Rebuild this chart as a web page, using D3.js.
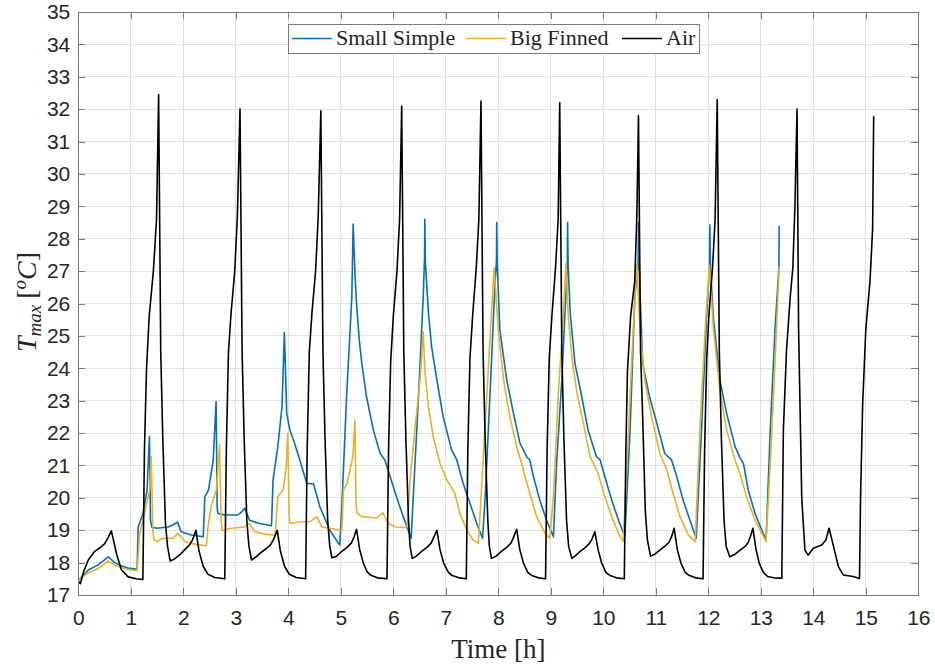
<!DOCTYPE html>
<html><head><meta charset="utf-8">
<script src="https://cdn.jsdelivr.net/npm/d3@7"></script>
<style>body{margin:0;background:#fff}</style>
</head><body><svg id="c" width="935" height="668"></svg>
<script>
// ---- data ----
const seriesNames = ["Small Simple", "Big Finned", "Air"];
const seriesColors = ["#0072BD", "#EDB120", "#000000"];
const xTicks = [0,1,2,3,4,5,6,7,8,9,10,11,12,13,14,15,16];
const yTicks = [17,18,19,20,21,22,23,24,25,26,27,28,29,30,31,32,33,34,35];

const smallSimpleData = [
[0,17.45],[0.19,17.77],[0.38,17.93],[0.57,18.18],[0.69,18.0],[0.82,17.9],[0.95,17.83],[1.12,17.79],
[1.14,19.1],[1.23,19.5],[1.31,20.24],[1.355,21.89],[1.375,19.3],
[1.40,19.1],[1.49,19.06],[1.71,19.1],[1.80,19.16],[1.89,19.25],[1.96,18.95],[2.15,18.85],[2.38,18.8],
[2.41,20.03],[2.48,20.24],[2.57,21.17],[2.625,22.97],[2.645,19.7],
[2.66,19.52],[2.79,19.47],[3.04,19.47],[3.10,19.55],[3.17,19.68],[3.26,19.31],[3.45,19.21],[3.68,19.14],
[3.71,20.55],[3.80,21.58],[3.88,22.81],[3.925,25.1],
[3.97,22.6],[4.03,22.1],[4.10,21.78],[4.22,21.17],[4.35,20.45],[4.48,20.43],[4.60,19.73],[4.79,19.0],[4.98,18.54],
[5.02,19.73],[5.11,23.12],[5.21,26.2],[5.235,28.45],
[5.27,26.9],[5.30,26.0],[5.35,24.9],[5.40,24.15],[5.49,23.12],[5.62,22.09],[5.75,21.37],[5.84,21.17],[5.94,20.65],[6.06,20.03],[6.19,19.42],[6.34,18.75],
[6.38,20.03],[6.48,23.12],[6.57,26.2],[6.595,27.4],[6.60,28.6],[6.61,27.3],
[6.67,25.7],[6.73,24.66],[6.83,23.64],[6.95,22.5],[7.11,21.48],[7.21,21.17],[7.33,20.45],[7.46,19.83],[7.59,19.21],[7.70,18.75],
[7.75,20.03],[7.84,23.12],[7.94,26.72],[7.965,27.3],[7.97,28.5],[7.98,27.2],
[8.03,25.18],[8.16,23.64],[8.29,22.6],[8.41,21.7],[8.54,21.27],[8.60,21.17],[8.67,20.65],[8.79,19.93],[8.92,19.31],[9.05,18.8],
[9.11,21.06],[9.21,23.64],[9.30,26.72],[9.315,27.3],[9.32,28.5],[9.33,27.2],
[9.37,25.7],[9.46,24.15],[9.59,23.12],[9.71,22.09],[9.87,21.27],[9.94,21.17],[10.03,20.65],[10.16,19.93],[10.29,19.31],[10.41,18.8],
[10.51,22.09],[10.60,26.2],[10.665,27.3],[10.67,28.5],[10.68,27.2],
[10.75,24.15],[10.88,23.12],[11.02,22.3],[11.17,21.37],[11.30,21.17],[11.40,20.65],[11.52,19.93],[11.65,19.31],[11.77,18.75],
[11.87,22.09],[11.97,25.7],[12.025,27.2],[12.03,28.42],[12.04,27.1],
[12.10,25.5],[12.22,23.64],[12.35,22.6],[12.51,21.58],[12.60,21.25],[12.67,21.06],[12.76,20.24],[12.89,19.52],[13.02,19.0],[13.10,18.7],
[13.18,22.09],[13.27,25.18],[13.345,27.13],[13.35,28.4]
];

const bigFinnedData = [
[0,17.46],[0.19,17.69],[0.38,17.82],[0.57,18.05],[0.69,17.93],[0.82,17.85],[0.95,17.79],[1.12,17.75],
[1.17,18.9],[1.26,19.52],[1.36,20.24],[1.39,21.27],
[1.42,19.0],[1.44,18.7],[1.49,18.65],[1.61,18.75],[1.80,18.75],[1.90,18.9],[2.03,18.65],[2.22,18.57],[2.44,18.52],
[2.47,19.1],[2.53,19.73],[2.63,20.24],[2.69,21.63],
[2.72,19.3],[2.74,19.0],[2.91,19.06],[3.17,19.1],[3.26,19.21],[3.36,18.95],[3.55,18.88],[3.75,18.85],
[3.80,20.03],[3.90,20.24],[3.96,20.96],[3.99,21.99],
[4.015,19.5],[4.03,19.21],[4.22,19.26],[4.41,19.26],[4.54,19.42],[4.64,19.1],[4.79,19.06],[5.02,19.0],
[5.05,20.24],[5.12,20.45],[5.23,21.27],[5.27,22.4],
[5.29,19.8],[5.31,19.52],[5.40,19.42],[5.56,19.4],[5.68,19.37],[5.80,19.54],[5.90,19.21],[6.06,19.1],[6.26,19.08],
[6.32,20.55],[6.41,22.09],[6.51,23.64],[6.57,25.13],
[6.60,23.94],[6.67,22.81],[6.76,21.89],[6.89,21.06],[7.02,20.55],[7.11,20.32],[7.17,20.14],[7.27,19.52],[7.40,19.0],[7.52,18.7],[7.62,18.6],
[7.68,20.24],[7.78,23.12],[7.87,25.7],[7.92,27.1],
[8.00,25.18],[8.10,23.64],[8.22,22.5],[8.35,21.58],[8.48,20.86],[8.51,20.65],[8.60,20.14],[8.73,19.42],[8.89,18.9],[8.98,18.75],
[9.05,20.03],[9.14,23.12],[9.24,25.7],[9.29,27.24],
[9.33,25.7],[9.40,24.36],[9.49,23.33],[9.62,22.3],[9.75,21.27],[9.90,20.76],[10.03,20.03],[10.16,19.42],[10.29,18.9],[10.38,18.65],
[10.48,22.09],[10.57,25.18],[10.64,27.24],
[10.70,25.18],[10.79,23.64],[10.92,22.5],[11.08,21.37],[11.21,20.86],[11.33,20.14],[11.46,19.42],[11.62,18.85],[11.75,18.65],
[11.84,22.09],[11.94,25.18],[12.02,27.19],
[12.10,25.18],[12.22,23.33],[12.35,22.09],[12.51,21.17],[12.60,20.76],[12.73,20.03],[12.89,19.31],[13.02,18.9],[13.10,18.65],
[13.18,21.06],[13.27,24.15],[13.35,27.13]
];

const airData = [
[0.00,17.42],[0.04,17.35],[0.10,17.72],[0.19,18.08],[0.31,18.34],[0.42,18.47],[0.50,18.58],[0.57,18.78],[0.63,18.98],[0.68,18.62],[0.73,18.26],[0.82,17.78],[0.95,17.56],[1.10,17.50],[1.23,17.48],
[1.26,21.5],[1.30,24.0],[1.35,25.6],[1.43,27.0],[1.49,28.6],[1.53,32.45],
[1.57,24.5],[1.61,21.8],[1.66,19.2],[1.70,18.5],[1.75,18.05],[1.84,18.12],[1.92,18.22],[2.03,18.40],[2.12,18.55],[2.18,18.72],[2.24,19.00],[2.30,18.35],[2.38,17.88],[2.47,17.64],[2.60,17.54],[2.79,17.50],
[2.82,21.5],[2.86,24.5],[2.91,25.7],[2.98,27.0],[3.03,28.7],[3.08,32.0],
[3.12,24.5],[3.16,21.8],[3.21,19.3],[3.25,18.5],[3.30,18.08],[3.38,18.17],[3.47,18.30],[3.57,18.42],[3.66,18.55],[3.72,18.72],[3.79,19.00],[3.85,18.35],[3.93,17.88],[4.02,17.64],[4.15,17.54],[4.33,17.50],
[4.36,21.5],[4.40,24.5],[4.45,25.7],[4.52,27.0],[4.57,28.7],[4.62,31.95],
[4.66,24.5],[4.70,21.8],[4.75,19.3],[4.79,18.5],[4.83,18.15],[4.92,18.2],[5.02,18.35],[5.12,18.47],[5.20,18.6],[5.25,18.78],[5.30,19.03],[5.36,18.4],[5.43,17.98],[5.50,17.72],[5.56,17.62],[5.70,17.53],[5.88,17.50],
[5.91,21.5],[5.95,24.2],[6.00,25.6],[6.07,27.0],[6.12,28.6],[6.16,32.1],
[6.20,24.5],[6.24,21.8],[6.29,19.3],[6.32,18.5],[6.36,18.13],[6.44,18.2],[6.54,18.35],[6.64,18.47],[6.72,18.6],[6.77,18.78],[6.83,19.0],[6.89,18.4],[6.96,17.98],[7.05,17.7],[7.12,17.6],[7.25,17.53],[7.39,17.50],
[7.42,21.5],[7.46,24.3],[7.51,25.6],[7.58,27.1],[7.63,28.6],[7.67,32.25],
[7.71,24.5],[7.75,21.8],[7.80,19.3],[7.83,18.5],[7.87,18.13],[7.96,18.2],[8.06,18.35],[8.16,18.47],[8.24,18.6],[8.29,18.78],[8.35,19.03],[8.41,18.4],[8.48,17.98],[8.56,17.7],[8.64,17.6],[8.76,17.53],[8.90,17.50],
[8.93,21.5],[8.97,24.3],[9.02,25.6],[9.09,27.1],[9.14,28.6],[9.17,32.2],
[9.21,24.5],[9.25,21.8],[9.30,19.3],[9.34,18.5],[9.40,18.13],[9.46,18.2],[9.56,18.35],[9.66,18.47],[9.74,18.6],[9.79,18.75],[9.84,18.95],[9.90,18.4],[9.97,17.98],[10.05,17.7],[10.13,17.6],[10.25,17.53],[10.40,17.50],
[10.43,21.5],[10.46,23.9],[10.52,25.6],[10.60,26.7],[10.64,28.8],[10.67,31.8],
[10.71,24.5],[10.75,22.5],[10.80,19.6],[10.84,18.7],[10.90,18.2],[10.97,18.25],[11.07,18.38],[11.17,18.5],[11.25,18.62],[11.30,18.8],[11.35,19.06],[11.41,18.4],[11.48,17.98],[11.56,17.7],[11.64,17.6],[11.76,17.53],[11.90,17.50],
[11.93,21.5],[11.97,24.3],[12.01,25.6],[12.08,27.1],[12.13,28.6],[12.17,32.3],
[12.21,24.5],[12.25,21.8],[12.30,19.3],[12.34,18.5],[12.41,18.18],[12.50,18.25],[12.60,18.38],[12.70,18.5],[12.76,18.62],[12.80,18.8],[12.85,19.06],[12.91,18.4],[12.97,17.98],[13.05,17.7],[13.13,17.57],[13.25,17.53],[13.40,17.52],
[13.43,22.1],[13.49,24.56],[13.56,26.2],[13.61,27.1],[13.65,29.0],[13.69,32.0],
[13.72,25.2],[13.78,20.0],[13.84,18.39],[13.90,18.23],[14.00,18.44],[14.16,18.54],[14.24,18.7],[14.30,19.06],[14.37,18.6],[14.48,17.87],[14.57,17.62],[14.76,17.57],[14.88,17.51],
[14.90,20.0],[14.94,22.9],[15.00,25.2],[15.08,26.7],[15.13,28.3],[15.15,31.78]
];

const seriesData = [smallSimpleData, bigFinnedData, airData];

// ---- chart ----
const mLeft = 78.3, mRight = 918.3, mTop = 12, mBottom = 595;
const svg = d3.select("#c");
const x = d3.scaleLinear().domain([0, 16]).range([mLeft, mRight]);
const y = d3.scaleLinear().domain([17, 35]).range([mBottom, mTop]);

// grid
const grid = svg.append("g").attr("stroke", "#e1e1e1").attr("stroke-width", 1).attr("shape-rendering", "crispEdges");
grid.selectAll(".gx").data(xTicks).join("line")
  .attr("x1", d => x(d)).attr("x2", d => x(d)).attr("y1", mTop).attr("y2", mBottom);
grid.selectAll(".gy").data(yTicks).join("line")
  .attr("y1", d => y(d)).attr("y2", d => y(d)).attr("x1", mLeft).attr("x2", mRight);

// clip
svg.append("clipPath").attr("id", "clip").append("rect")
  .attr("x", mLeft).attr("y", mTop).attr("width", mRight - mLeft).attr("height", mBottom - mTop);

const line = d3.line().x(d => x(d[0])).y(d => y(d[1]));
const plot = svg.append("g").attr("clip-path", "url(#clip)");
seriesData.forEach((data, i) => {
  plot.append("path").datum(data)
    .attr("fill", "none").attr("stroke", seriesColors[i])
    .attr("stroke-width", 1.6).attr("stroke-linejoin", "round")
    .attr("d", line);
});

// axes
const axisColor = "#262626";
const tickFont = "'Liberation Sans', Arial, Helvetica, sans-serif";
function styleAxis(g) {
  g.select(".domain").attr("stroke", "#7a7a7a").attr("stroke-width", 1);
  g.selectAll(".tick line").attr("stroke", "#7a7a7a").attr("stroke-width", 1);
  g.selectAll(".tick text").attr("fill", axisColor).attr("font-family", tickFont).attr("font-size", 21);
  g.attr("shape-rendering", "crispEdges");
}
svg.append("g").attr("transform", `translate(0,${mBottom})`)
  .call(d3.axisBottom(x).tickValues(xTicks).tickSizeInner(-7).tickSizeOuter(0).tickPadding(15).tickFormat(d3.format("d")))
  .call(styleAxis);
svg.append("g").attr("transform", `translate(0,${mTop})`)
  .call(d3.axisTop(x).tickValues(xTicks).tickSizeInner(-7).tickSizeOuter(0).tickFormat(""))
  .call(styleAxis);
svg.append("g").attr("transform", `translate(${mLeft},0)`)
  .call(d3.axisLeft(y).tickValues(yTicks).tickSizeInner(-7).tickSizeOuter(0).tickPadding(8).tickFormat(d3.format("d")))
  .call(styleAxis);
svg.append("g").attr("transform", `translate(${mRight},0)`)
  .call(d3.axisRight(y).tickValues(yTicks).tickSizeInner(-7).tickSizeOuter(0).tickFormat(""))
  .call(styleAxis);

// axis labels
const serif = "'Liberation Serif', 'Times New Roman', serif";
svg.append("text").attr("x", (mLeft + mRight) / 2).attr("y", 658)
  .attr("text-anchor", "middle").attr("font-family", serif).attr("font-size", 27).attr("fill", axisColor)
  .text("Time [h]");

const yl = svg.append("text").attr("transform", "translate(36,352) rotate(-90)")
  .attr("text-anchor", "start").attr("font-family", serif).attr("font-size", 28).attr("fill", axisColor);
yl.append("tspan").attr("font-style", "italic").text("T");
yl.append("tspan").attr("font-style", "italic").attr("font-size", 19).attr("dy", 5).text("max");
yl.append("tspan").attr("dy", -5).attr("dx", 6).text("[");
yl.append("tspan").attr("font-style", "italic").attr("font-size", 19).attr("dy", -10).text("o");
yl.append("tspan").attr("font-style", "italic").attr("dy", 10).text("C");
yl.append("tspan").text("]");

// legend
const lg = svg.append("g");
lg.append("rect").attr("x", 288).attr("y", 24).attr("width", 411).attr("height", 29)
  .attr("fill", "#fff").attr("stroke", "#7a7a7a").attr("stroke-width", 1).attr("shape-rendering", "crispEdges");
const legendX = [292, 466, 622];
seriesNames.forEach((name, i) => {
  lg.append("line").attr("x1", legendX[i]).attr("x2", legendX[i] + 40).attr("y1", 38.5).attr("y2", 38.5)
    .attr("stroke", seriesColors[i]).attr("stroke-width", 1.6);
  lg.append("text").attr("x", legendX[i] + 44).attr("y", 45)
    .attr("font-family", serif).attr("font-size", 22).attr("fill", axisColor).text(name);
});
</script></body></html>
